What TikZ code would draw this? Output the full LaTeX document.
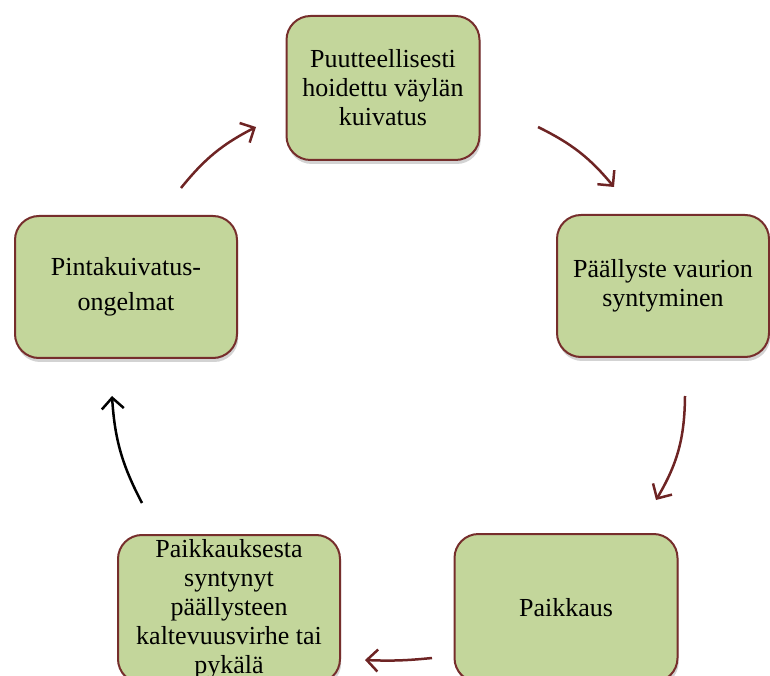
\documentclass[tikz,border=0pt]{standalone}
\usepackage{fontspec}
\setmainfont{Liberation Serif}
\usetikzlibrary{arrows.meta,shadows}
\definecolor{boxgreen}{RGB}{195,214,155}
\definecolor{boxred}{RGB}{118,46,44}
\definecolor{arrowred}{RGB}{110,36,36}

\begin{document}
\begin{tikzpicture}[x=0.5pt,y=0.5pt,
			thin,main node/.style = {rectangle,rounded corners=12pt,draw=boxred,line width=1pt,fill=boxgreen,
				inner sep=0pt,align=center,font=\fontsize{13}{14.5}\selectfont,
				drop shadow={shadow xshift=0.6pt,shadow yshift=-2pt,opacity=0.35}},
			cycle arrow/.style = {draw=arrowred,line width=1.25pt,-{Straight Barb[length=5.5pt,width=11pt]}}]
			
			\useasboundingbox (0,0) rectangle (770,675);
			
			\node[main node,minimum width=96.5pt,minimum height=72pt] at (383,587) (1) {Puutteellisesti\\hoidettu väylän\\kuivatus};
			\node[main node,minimum width=106pt,minimum height=71pt] at (663,389) (2) {Päällyste vaurion\\syntyminen};
			\node[main node,minimum width=111.5pt,minimum height=74pt] at (566,67) (3) {Paikkaus};
			\node[main node,minimum width=111pt,minimum height=74pt] at (229,66) (4) {Paikkauksesta\\syntynyt\\päällysteen\\kaltevuusvirhe tai\\pykälä};
			\node[main node,minimum width=111pt,minimum height=71pt] at (126,388) (5) {Pintakuivatus-\\[3pt]ongelmat};
			
			\coordinate (a1) at (181,487);
			\coordinate (b1) at (256,548);
			\coordinate (a2) at (538,548);
			\coordinate (b2) at (614,488);
			\coordinate (a3) at (685,279);
			\coordinate (b3) at (656,175);
			\coordinate (a4) at (432,17);
			\coordinate (b4) at (365,15);
			\coordinate (a5) at (142,172);
			\coordinate (b5) at (112,279);
			
			\draw[cycle arrow] (a1) to[bend left=12] (b1);
			\draw[cycle arrow] (a2) to[bend left=12] (b2);
			\draw[cycle arrow] (a3) to[bend left=15] (b3);
			\draw[cycle arrow] (a4) to[bend left=4] (b4);
			\draw[cycle arrow,draw=black] (a5) to[bend left=12] (b5);
			
			\end{tikzpicture}
\end{document}
